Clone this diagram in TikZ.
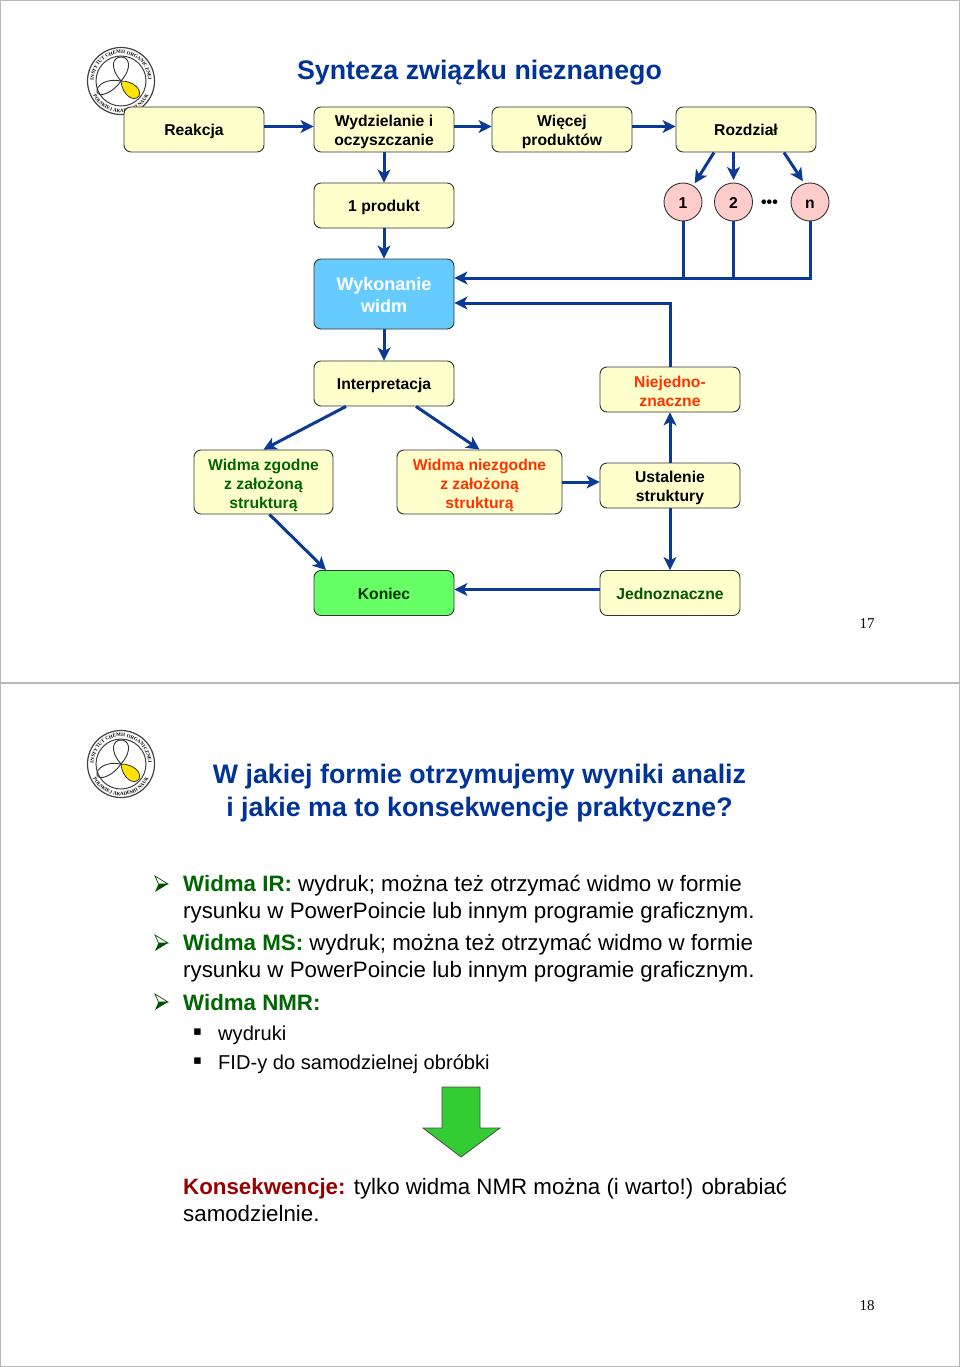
\documentclass[tikz,border=0pt]{standalone}
\usepackage{fontspec}
\setmainfont{Liberation Sans}
\newfontfamily\serifnum{Liberation Serif}
\newfontfamily\symfont{DejaVu Sans}
\usetikzlibrary{arrows.meta,calc,decorations.text}
\definecolor{Flow}{HTML}{0B3A96}
\definecolor{Cream}{HTML}{FFFFCC}
\definecolor{Sky}{HTML}{66CCFF}
\definecolor{Mint}{HTML}{66FF66}
\definecolor{Blush}{HTML}{FFCCCC}
\definecolor{Leaf}{HTML}{006600}
\definecolor{Alert}{HTML}{FF3300}
\definecolor{Maroon}{HTML}{990000}
\definecolor{Arrowfill}{HTML}{33CC33}
\definecolor{Title}{HTML}{003399}
\definecolor{Edge}{HTML}{B8B8B8}
\newcommand{\lift}{\rule[-3.4pt]{0pt}{18.9pt}}
\tikzset{
  box/.style={draw=black!80,line width=0.9pt,fill=Cream,rounded corners=7pt,align=center,
    minimum width=140pt,minimum height=45pt,inner sep=0pt,
    font=\fontsize{15.7}{19}\selectfont\bfseries},
  round/.style={circle,draw=black!80,line width=0.9pt,fill=Blush,minimum size=38pt,inner sep=0pt,
    outer sep=3pt,text height=12pt,text depth=0pt,font=\fontsize{15.7}{19}\selectfont\bfseries},
  flow/.style={->,draw=Flow,line width=3pt},
  wire/.style={draw=Flow,line width=3pt},
  heading/.style={text=Title,align=center,inner sep=0pt,font=\fontsize{26.8}{33}\selectfont\bfseries},
  body/.style={anchor=west,align=left,inner sep=0pt,font=\fontsize{22.3}{27}\selectfont},
  small/.style={anchor=west,inner sep=0pt,font=\fontsize{20.1}{24}\selectfont},
  dot/.style={anchor=center,inner sep=0pt,font=\fontsize{13}{13}\symfont},
  pageno/.style={inner sep=0pt,font=\fontsize{15}{15}\serifnum},
  tick/.pic={
    \begin{scope}[y=1pt,x=1pt]
      \draw[Leaf!80!black,line width=0.7pt,fill=white] (-6.5,8) -- (6.5,0) -- (-3,0) -- cycle;
      \fill[Leaf!80!black] (-6.5,-8) -- (6.5,0) -- (-3,0) -- cycle;
    \end{scope}
  },
  logo/.pic={
    \begin{scope}[y=1pt,x=1pt]
      \draw[black!75,line width=1.2pt] (0,0) circle (33.5);
      \draw[black!75,line width=1pt] (0,0) circle (25);
      \path[decorate,decoration={text along path,text align=center,
        text={|\fontsize{5}{5}\selectfont\serifnum\bfseries|INSTYTUT CHEMII ORGANICZNEJ}}]
        (195:27.3) arc[start angle=195,end angle=-15,radius=27.3];
      \path[decorate,decoration={text along path,text align=center,
        text={|\fontsize{5}{5}\selectfont\serifnum\bfseries|POLSKIEJ AKADEMII NAUK}}]
        (205:31.5) arc[start angle=205,end angle=335,radius=31.5];
      \draw[black!80,line width=0.9pt] (0,0) .. controls (-12,14) and (-8,24) .. (0,24)
        .. controls (8,24) and (12,14) .. (0,0);
      \draw[black!80,line width=0.9pt] (0,0) .. controls (-14,3) and (-25,-4) .. (-24,-11)
        .. controls (-22,-17) and (-8,-12) .. (0,0);
      \draw[black!80,line width=0.8pt,fill=yellow!85!orange] (0,0) .. controls (12,0) and (21,-8) .. (18,-15)
        .. controls (13,-22) and (1,-14) .. (0,0);
    \end{scope}
  }
}
\begin{document}
\begin{tikzpicture}[>={Stealth[length=13pt,width=13pt,inset=3.5pt]},x=1pt,y=-1pt]
  \useasboundingbox (0,0) rectangle (960,1367);
  \draw[Edge,line width=1pt] (0.5,0.5) rectangle (959.5,683);
  \draw[Edge,line width=1.2pt] (0.5,683) rectangle (959.5,1366.5);

  \pic at (121,81) {logo};
  \pic at (121,764) {logo};

  \node[heading] (title) at (479.5,73) {Synteza związku nieznanego};
  \node[box] (reakcja) at (194,129.5) {\lift Reakcja};
  \node[box] (wydziel) at (384,129.5) {\lift Wydzielanie i\\oczyszczanie};
  \node[box] (wiecej) at (562,129.5) {\lift Więcej\\produktów};
  \node[box] (rozdzial) at (746,129.5) {\lift Rozdział};
  \node[box] (produkt) at (384,205.5) {\lift 1 produkt};
  \node[round] (c1) at (683,202) {1};
  \node[round] (c2) at (733.5,202) {2};
  \node[inner sep=0pt,font=\fontsize{16}{16}\selectfont\bfseries] (cdots) at (769.5,204) {•••};
  \node[round] (cn) at (810,202) {n};
  \node[box,fill=Sky,text=white,minimum height=70pt,font=\fontsize{18}{22}\selectfont\bfseries] (widma) at (384,294) {\lift Wykonanie\\widm};
  \node[box] (interp) at (384,383.5) {\lift Interpretacja};
  \node[box,text=Alert] (niejedn) at (670,389.5) {\lift Niejedno-\\znaczne};
  \node[box,text=Leaf,minimum width=139pt,minimum height=64pt] (zgodne) at (263.5,482) {\lift Widma zgodne\\z założoną\\struktur\smash{ą}};
  \node[box,text=Alert,minimum width=165pt,minimum height=64pt] (niezg) at (479.5,482) {\lift Widma niezgodne\\z założoną\\struktur\smash{ą}};
  \node[box] (ustal) at (670,485.5) {\lift Ustalenie\\struktury};
  \node[box,fill=Mint,text=Leaf!50!black] (koniec) at (384,593) {\lift Koniec};
  \node[box,text=Leaf!85!black] (jedno) at (670,593) {\lift Jednoznaczne};
  \node[pageno] (p17) at (867,624) {17};

  \draw[flow] ($(reakcja.east)+(0,-3)$) -- ($(wydziel.west)+(0,-3)$);
  \draw[flow] ($(wydziel.east)+(0,-3)$) -- ($(wiecej.west)+(0,-3)$);
  \draw[flow] ($(wiecej.east)+(0,-3)$) -- ($(rozdzial.west)+(0,-3)$);
  \draw[flow] (wydziel) -- (produkt);
  \draw[flow] (produkt) -- (widma);
  \draw[flow] (widma) -- (interp);
  \draw[flow] ($(rozdzial.south)+(-32,0)$) -- (c1.58);
  \draw[flow] (c2 |- rozdzial.south) -- (c2);
  \draw[flow] ($(rozdzial.south)+(38,0)$) -- (cn.109);
  \draw[flow] ($(cn.south)+(0,-3)$) |- ($(widma.east)+(0,-16)$);
  \draw[wire] ($(c1.south)+(0,-3)$) -- ($(c1 |- widma.east)+(0,-16)$);
  \draw[wire] ($(c2.south)+(0,-3)$) -- ($(c2 |- widma.east)+(0,-16)$);
  \draw[flow] (niejedn.north) |- ($(widma.east)+(0,9)$);
  \draw[flow] ($(interp.south)+(-38,0)$) -- (zgodne.north);
  \draw[flow] ($(interp.south)+(32,0)$) -- (niezg.north);
  \draw[flow] ($(zgodne.south)+(6,0)$) -- ($(koniec.north)+(-58,0)$);
  \draw[flow] (niezg.east) -- (ustal.west |- niezg.east);
  \draw[flow] (ustal) -- (niejedn);
  \draw[flow] (ustal) -- (jedno);
  \draw[flow] ($(jedno.west)+(0,-3.5)$) -- ($(koniec.east)+(0,-3.5)$);

  \node[heading] (title2) at (479.5,793) {W jakiej formie otrzymujemy wyniki analiz\\i jakie ma to konsekwencje praktyczne?};
  \pic at (161.5,884) {tick};
  \node[body] (ir) at (183,899.5) {\textcolor{Leaf}{\textbf{Widma IR:}} wydruk; można też otrzymać widmo w formie\\rysunku w PowerPoincie lub innym programie graficznym.};
  \pic at (161.5,943) {tick};
  \node[body] (ms) at (183,958.5) {\textcolor{Leaf}{\textbf{Widma MS:}} wydruk; można też otrzymać widmo w formie\\rysunku w PowerPoincie lub innym programie graficznym.};
  \pic at (161.5,1002) {tick};
  \node[body] (nmr) at (183,1003) {\textcolor{Leaf}{\textbf{Widma NMR:}}};
  \node[dot] (d1) at (197.5,1032.5) {▪};
  \node[small] (wyd) at (218,1035) {wydruki};
  \node[dot] (d2) at (197.5,1061.5) {▪};
  \node[small] (fid) at (218,1064) {FID-y do samodzielnej obróbki};
  \draw[black!70,line width=0.8pt,fill=Arrowfill] (442,1087) -- (480,1087) -- (480,1128) -- (500,1128) -- (461,1157) -- (423,1128) -- (442,1128) -- cycle;
  \node[body] (kons) at (183,1200) {\textcolor{Maroon}{\textbf{Konsekwencje:}} tylko widma NMR można (i warto!) obrabiać\\samodzielnie.};
  \node[pageno] (p18) at (867,1306) {18};
\end{tikzpicture}
\end{document}
